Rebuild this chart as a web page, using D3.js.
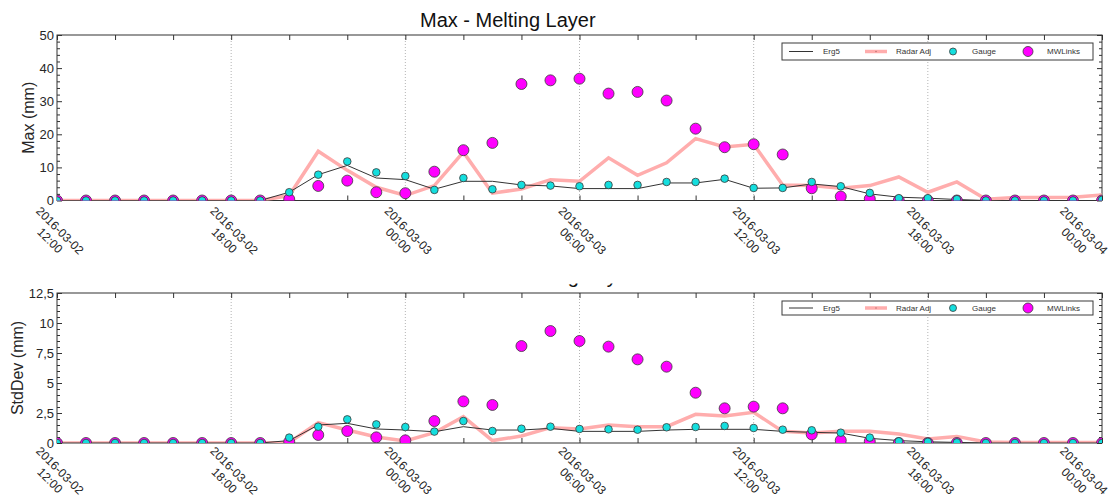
<!DOCTYPE html>
<html>
<head>
<meta charset="utf-8">
<script src="https://cdn.jsdelivr.net/npm/d3@7"></script>
<style>
  html, body { margin: 0; padding: 0; background: #fff; }
  svg { display: block; font-family: "Liberation Sans", Arial, sans-serif; }
</style>
</head>
<body>
<svg id="chart" width="1113" height="498"></svg>
<script>
// ---------------- DATA ----------------
const startTime = "2016-03-02T12:00:00";
const endTime = "2016-03-04T00:00:00";
const seriesNames = ["Erg5", "Radar Adj", "Gauge", "MWLinks"];

// hourly values, 2016-03-02 12:00 ... 2016-03-04 00:00
const erg5Max  = [0,0,0,0,0,0,0,0, 2.5,7.8,10.6,6.8,6.3,3.4,5.8,5.8,4.7,4.4,3.6,3.6,3.6,5.3,5.3,6.4,3.7,3.8,5.0,4.2,2.0,1.0,0.7,0.3,0,0,0,0,0];
const radarMax = [0,0,0,0,0,0,0,0, 1.5,14.9,9.1,4.0,1.5,4.5,14.6,2.2,3.5,6.3,5.8,12.9,7.6,11.4,18.7,16.2,17.0,4.7,4.5,3.7,4.5,7.1,2.5,5.6,0.4,0.9,0.9,1.0,1.7];
const gaugeMax = [0,0,0,0,0,0,0,0, 2.5,7.8,11.8,8.5,7.4,3.2,6.8,3.4,4.7,4.5,4.3,4.7,4.7,5.6,5.6,6.6,3.8,3.8,5.6,4.3,2.3,0.7,0.7,0.4,0,0,0,0,0.2];
const mwMax    = [0,0,0,0,0,0,0,0, 0.4,4.4,6.0,2.5,2.2,8.7,15.2,17.4,35.2,36.3,36.8,32.3,32.8,30.2,21.7,16.1,17.0,13.9,3.7,1.2,0.5,0,0,0,0,0,0,0,0];

const erg5Std  = [0,0,0,0,0,0,0,0, 0.2,1.5,1.64,1.17,1.08,0.94,1.36,1.08,1.08,1.22,0.97,0.97,0.97,1.08,1.14,1.14,1.14,0.97,0.89,0.83,0.39,0.2,0.1,0.05,0,0,0,0,0];
const radarStd = [0,0,0,0,0,0,0,0, 0.05,1.7,1.08,0.5,0.17,0.86,2.2,0.2,0.58,1.28,1.17,1.5,1.36,1.36,2.39,2.25,2.56,0.97,0.83,0.97,0.97,0.75,0.33,0.55,0.08,0.05,0.05,0.05,0.05];
const gaugeStd = [0,0,0,0,0,0,0,0, 0.45,1.36,1.97,1.55,1.33,0.95,1.83,1.0,1.19,1.36,1.17,1.14,1.11,1.31,1.33,1.42,1.25,1.11,1.06,0.86,0.45,0.14,0.1,0.05,0,0,0,0,0];
const mwStd    = [0,0,0,0,0,0,0,0, 0.1,0.67,1.0,0.47,0.22,1.83,3.47,3.17,8.08,9.33,8.5,8.03,6.97,6.36,4.19,2.89,3.03,2.89,0.72,0.22,0.14,0,0,0,0,0,0,0,0];

const maxYTicks = [0, 10, 20, 30, 40, 50];
const stdYTicks = [0, 2.5, 5, 7.5, 10, 12.5];
const titles = ["Max - Melting Layer", "StdDev - Melting Layer"];
const yLabels = ["Max (mm)", "StdDev (mm)"];

// ---------------- STYLE ----------------
const W = 1113, H = 498;
const L = 57, R = 1102;
const colors = { erg5: "#333333", radar: "#ffadad", gauge: "#14dede", mw: "#ff00ff", text: "#262626", axis: "#333333" };

const svg = d3.select("#chart");
const parse = d3.isoParse;
const t0 = parse(startTime), t1 = parse(endTime);
const x = d3.scaleTime().domain([t0, t1]).range([L, R]);
const timeOf = i => d3.timeHour.offset(t0, i);

const panels = [
  { top: 35, bottom: 200.5, yTicks: maxYTicks, minorStep: 2, yLabel: yLabels[0], yLabelX: 28, xLabOff: 30,
    leg: [43, 60], series: [erg5Max, radarMax, gaugeMax, mwMax], fmt: d => String(d) },
  { top: 293, bottom: 443, yTicks: stdYTicks, minorStep: 0.5, yLabel: yLabels[1], yLabelX: 17.5, xLabOff: 27.5,
    leg: [301, 315], series: [erg5Std, radarStd, gaugeStd, mwStd], fmt: d => String(d).replace(".", ",") }
];

// titles
svg.append("text").attr("x", 420).attr("y", 27).attr("font-size", 20).attr("fill", "#111").text(titles[0]);
svg.append("clipPath").attr("id", "titleclip").append("rect").attr("x", 0).attr("y", 283.5).attr("width", W).attr("height", 9);
svg.append("text").attr("x", 431).attr("y", 283).attr("font-size", 20).attr("fill", "#111")
  .attr("clip-path", "url(#titleclip)").text(titles[1]);

const majorX = d3.timeHour.every(6).range(t0, d3.timeHour.offset(t1, 1));
const minorX = d3.timeHour.every(2).range(t0, d3.timeHour.offset(t1, 1));

panels.forEach((p, pi) => {
  const yMax = p.yTicks[p.yTicks.length - 1];
  const y = d3.scaleLinear().domain([0, yMax]).range([p.bottom, p.top]);
  const minorY = d3.range(0, yMax + 1e-9, p.minorStep).filter(v => !p.yTicks.some(t => Math.abs(t - v) < 1e-9));
  const g = svg.append("g");

  // grid (dotted, 6-hourly, interior only)
  g.selectAll("line.grid").data(majorX.filter(d => +d > +t0 && +d < +t1)).join("line")
    .attr("x1", d => x(d)).attr("x2", d => x(d)).attr("y1", p.top).attr("y2", p.bottom)
    .attr("stroke", "#a0a0a0").attr("stroke-width", 0.8).attr("stroke-dasharray", "1,2");

  // frame
  g.append("rect").attr("x", L).attr("y", p.top).attr("width", R - L).attr("height", p.bottom - p.top)
    .attr("fill", "none").attr("stroke", colors.axis).attr("stroke-width", 1);

  const styleAxis = sel => { sel.select(".domain").remove(); sel.selectAll("line").attr("stroke", colors.axis); };

  // left axis
  g.append("g").attr("transform", `translate(${L},0)`)
    .call(d3.axisLeft(y).tickValues(p.yTicks).tickSize(-5).tickPadding(3).tickFormat(p.fmt))
    .call(styleAxis)
    .call(s => s.selectAll("text").attr("font-size", 13).attr("fill", colors.text).attr("font-family", "Liberation Sans, Arial, sans-serif"));
  g.append("g").attr("transform", `translate(${L},0)`)
    .call(d3.axisLeft(y).tickValues(minorY).tickSize(-3).tickFormat(""))
    .call(styleAxis);
  // right axis
  g.append("g").attr("transform", `translate(${R},0)`)
    .call(d3.axisRight(y).tickValues(p.yTicks).tickSize(-5).tickFormat(""))
    .call(styleAxis);
  g.append("g").attr("transform", `translate(${R},0)`)
    .call(d3.axisRight(y).tickValues(minorY).tickSize(-3).tickFormat(""))
    .call(styleAxis);
  // top / bottom ticks
  g.append("g").attr("transform", `translate(0,${p.top})`)
    .call(d3.axisTop(x).tickValues(minorX).tickSize(-5).tickFormat(""))
    .call(styleAxis);
  g.append("g").attr("transform", `translate(0,${p.bottom})`)
    .call(d3.axisBottom(x).tickValues(minorX).tickSize(-5).tickFormat(""))
    .call(styleAxis);

  // rotated x labels
  const fDate = d3.timeFormat("%Y-%m-%d"), fTime = d3.timeFormat("%H:%M");
  majorX.forEach(d => {
    const cx = Math.min(x(d) + 3, W - 29);
    const lg = g.append("g").attr("transform", `translate(${cx},${p.bottom + p.xLabOff}) rotate(45)`)
      .attr("font-size", 12).attr("fill", colors.text).attr("text-anchor", "middle");
    lg.append("text").attr("y", 0).attr("dy", "0.35em").text(fDate(d));
    lg.append("text").attr("y", 14).attr("dy", "0.35em").text(fTime(d));
  });

  // y label
  g.append("text").attr("transform", `translate(${p.yLabelX},${(p.top + p.bottom) / 2}) rotate(-90)`)
    .attr("text-anchor", "middle").attr("dy", "0.35em").attr("font-size", 16).attr("fill", colors.text).text(p.yLabel);

  // data (clipped to the plot area)
  const cid = "clip" + pi;
  svg.append("clipPath").attr("id", cid).append("rect")
    .attr("x", L).attr("y", p.top).attr("width", R - L).attr("height", p.bottom - p.top);
  const dg = g.append("g").attr("clip-path", `url(#${cid})`);
  const [sErg, sRad, sGau, sMw] = p.series;
  const line = d3.line().x((d, i) => x(timeOf(i))).y(d => y(d));

  dg.append("path").datum(sRad).attr("d", line).attr("fill", "none")
    .attr("stroke", colors.radar).attr("stroke-width", 3.5).attr("stroke-linejoin", "miter");
  dg.append("path").datum(sErg).attr("d", line).attr("fill", "none")
    .attr("stroke", colors.erg5).attr("stroke-width", 1);
  dg.selectAll("circle.mw").data(sMw).join("circle")
    .attr("cx", (d, i) => x(timeOf(i))).attr("cy", d => y(d)).attr("r", 5.5)
    .attr("fill", colors.mw).attr("stroke", "#3a3a3a").attr("stroke-width", 0.8);
  dg.selectAll("circle.gauge").data(sGau).join("circle")
    .attr("cx", (d, i) => x(timeOf(i))).attr("cy", d => y(d)).attr("r", 3.8)
    .attr("fill", colors.gauge).attr("stroke", "#3a3a3a").attr("stroke-width", 0.8);

  // legend
  const [ly0, ly1] = p.leg, lcy = (ly0 + ly1) / 2;
  const lg = g.append("g");
  lg.append("rect").attr("x", 782).attr("y", ly0).attr("width", 311).attr("height", ly1 - ly0)
    .attr("fill", "#fff").attr("stroke", "#3a3a3a").attr("stroke-width", 1);
  lg.append("line").attr("x1", 789).attr("x2", 813).attr("y1", lcy).attr("y2", lcy).attr("stroke", colors.erg5).attr("stroke-width", 1);
  lg.append("line").attr("x1", 865).attr("x2", 887).attr("y1", lcy).attr("y2", lcy).attr("stroke", colors.radar).attr("stroke-width", 3.5);
  lg.append("circle").attr("cx", 876).attr("cy", lcy).attr("r", 0.8).attr("fill", "#c07070");
  lg.append("circle").attr("cx", 953).attr("cy", lcy).attr("r", 3.5).attr("fill", colors.gauge).attr("stroke", "#3a3a3a").attr("stroke-width", 0.8);
  lg.append("circle").attr("cx", 1028).attr("cy", lcy).attr("r", 5).attr("fill", colors.mw).attr("stroke", "#3a3a3a").attr("stroke-width", 0.8);
  [[823, seriesNames[0]], [896, seriesNames[1]], [972, seriesNames[2]], [1047, seriesNames[3]]].forEach(([tx, name]) => {
    lg.append("text").attr("x", tx).attr("y", lcy).attr("dy", "0.35em").attr("font-size", 8).attr("fill", "#333").text(name);
  });
});
</script>
</body>
</html>
